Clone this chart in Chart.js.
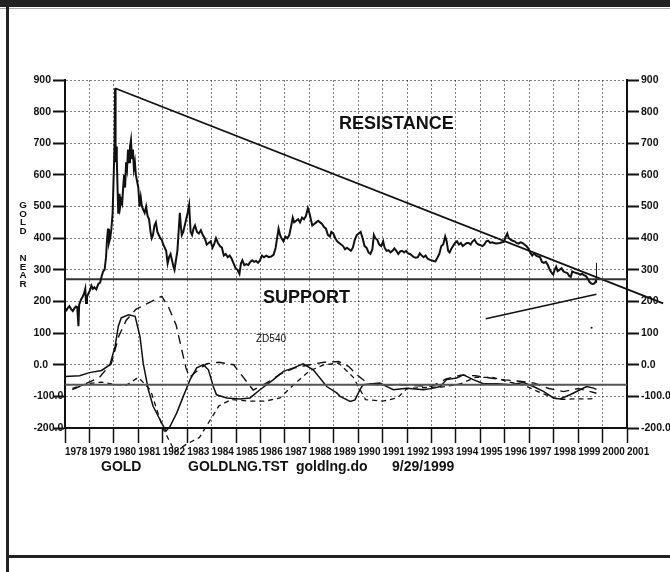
<!DOCTYPE html>
<html>
<head>
<meta charset="utf-8">
<title>GOLD NEAR</title>
<script src="https://cdn.jsdelivr.net/npm/chart.js@4.4.1/dist/chart.umd.min.js"></script>
<style>
  html, body { margin: 0; padding: 0; background: #fff; }
  #wrap { position: relative; width: 670px; height: 572px; overflow: hidden;
          font-family: "Liberation Sans", Arial, sans-serif; color: #111; }
  #wrap canvas { position: absolute; left: 0; top: 0; }
  .bar { position: absolute; background: #222; }
  .txt { position: absolute; white-space: nowrap; line-height: 1; font-weight: bold; }
  .vtitle { position: absolute; left: 18px; width: 10px; text-align: center;
            font-weight: bold; font-size: 9.8px; line-height: 8.7px; }
</style>
</head>
<body>
<div id="wrap">
  <canvas id="goldChart" width="670" height="572"></canvas>

  <div class="bar" style="left:0;top:0;width:670px;height:7px"></div>
  <div class="bar" style="left:0;top:8px;width:670px;height:1px;background:#aaa"></div>
  <div class="bar" style="left:6px;top:0;width:3px;height:572px"></div>
  <div class="bar" style="left:7px;top:555px;width:663px;height:3px"></div>

  <div class="vtitle" style="top:201px">G<br>O<br>L<br>D</div>
  <div class="vtitle" style="top:254px">N<br>E<br>A<br>R</div>

  <div class="txt" style="left:339px;top:114px;font-size:18px">RESISTANCE</div>
  <div class="txt" style="left:263px;top:288px;font-size:18px">SUPPORT</div>
  <div class="txt" style="left:256px;top:334px;font-size:10px;font-weight:normal">ZD540</div>

  <div class="txt" style="left:101px;top:459px;font-size:14px">GOLD</div>
  <div class="txt" style="left:188px;top:459px;font-size:14px">GOLDLNG.TST</div>
  <div class="txt" style="left:296px;top:459px;font-size:14px">goldlng.do</div>
  <div class="txt" style="left:392px;top:459px;font-size:14px">9/29/1999</div>
</div>

<script>
// ===== DATA =====
const firstYear = 1978;
const lastYear = 2001;
const priceMin = -200;
const priceMax = 900;

// GOLD NEAR, [decimal year, price]
const gold1978to1983 = [
  [1978.00,178],[1978.06,172],[1978.12,180],[1978.18,185],[1978.25,176],[1978.32,170],
  [1978.38,178],[1978.45,184],[1978.50,182],[1978.55,122],[1978.58,190],[1978.65,205],
  [1978.72,215],[1978.78,225],[1978.83,240],[1978.86,195],[1978.90,215],[1978.96,225],
  [1979.02,235],[1979.08,250],[1979.14,240],[1979.20,245],[1979.28,238],[1979.36,255],
  [1979.44,260],[1979.50,280],[1979.56,295],[1979.62,300],[1979.68,340],[1979.72,395],
  [1979.76,430],[1979.80,385],[1979.85,400],[1979.90,430],[1979.95,480],[1980.00,620],
  [1980.03,700],[1980.05,874],[1980.06,720],[1980.08,640],[1980.10,690],[1980.12,650],
  [1980.15,560],[1980.18,480],[1980.20,500],[1980.23,540],[1980.26,500],[1980.30,520],
  [1980.34,510],[1980.38,560],[1980.42,600],[1980.46,560],[1980.50,640],[1980.54,620],
  [1980.58,680],[1980.62,640],[1980.66,690],[1980.70,710],[1980.74,650],[1980.78,680],
  [1980.82,620],[1980.86,640],[1980.90,600],[1980.95,580],[1981.00,560],[1981.05,500],
  [1981.10,530],[1981.15,500],[1981.20,490],[1981.26,480],[1981.32,500],[1981.38,470],
  [1981.44,460],[1981.50,420],[1981.55,400],[1981.60,410],[1981.66,440],[1981.72,450],
  [1981.78,420],[1981.84,410],[1981.90,400],[1981.96,395],[1982.02,380],[1982.08,370],
  [1982.14,360],[1982.20,320],[1982.26,340],[1982.32,350],[1982.38,330],[1982.44,310],
  [1982.48,300],[1982.52,320],[1982.56,340],[1982.60,360],[1982.65,420],[1982.70,480],
  [1982.74,440],[1982.78,410],[1982.84,420],[1982.90,440],[1982.96,460],[1983.02,480],
  [1983.08,505],[1983.14,420],[1983.20,410],[1983.26,430],[1983.32,440],[1983.40,420],
  [1983.48,415],[1983.56,425],[1983.64,410],[1983.72,400],[1983.80,380],[1983.88,385],
  [1983.96,390]
];
const gold1984to1991 = [
  [1984.04,370],[1984.10,380],[1984.18,400],[1984.26,385],[1984.34,375],[1984.42,370],
  [1984.50,345],[1984.58,350],[1984.66,340],[1984.74,345],[1984.82,335],[1984.90,320],
  [1984.98,305],[1985.06,300],[1985.14,287],[1985.20,320],[1985.26,330],[1985.34,315],
  [1985.42,318],[1985.50,315],[1985.58,325],[1985.66,330],[1985.74,325],[1985.82,328],
  [1985.90,322],[1985.98,330],[1986.06,345],[1986.14,340],[1986.24,345],[1986.34,340],
  [1986.44,342],[1986.54,348],[1986.62,370],[1986.68,400],[1986.74,430],[1986.80,410],
  [1986.86,400],[1986.94,390],[1987.02,405],[1987.10,400],[1987.18,410],[1987.26,440],
  [1987.32,465],[1987.38,450],[1987.46,455],[1987.54,460],[1987.62,450],[1987.70,465],
  [1987.78,460],[1987.86,470],[1987.94,495],[1988.00,480],[1988.06,460],[1988.12,440],
  [1988.20,445],[1988.28,450],[1988.36,455],[1988.44,450],[1988.52,445],[1988.60,435],
  [1988.68,430],[1988.76,410],[1988.84,405],[1988.90,420],[1988.98,415],[1989.06,400],
  [1989.14,390],[1989.22,385],[1989.30,380],[1989.38,375],[1989.46,365],[1989.54,370],
  [1989.62,365],[1989.70,360],[1989.78,370],[1989.86,395],[1989.94,410],[1990.02,415],
  [1990.10,420],[1990.18,400],[1990.26,375],[1990.34,370],[1990.42,355],[1990.50,350],
  [1990.58,365],[1990.64,410],[1990.70,400],[1990.78,395],[1990.86,380],[1990.94,375],
  [1991.02,390],[1991.08,370],[1991.16,360],[1991.24,362],[1991.32,355],[1991.40,360],
  [1991.48,368],[1991.56,360],[1991.64,350],[1991.72,358],[1991.80,360],[1991.88,355],
  [1991.96,360]
];
const gold1992to1999 = [
  [1992.04,352],[1992.12,350],[1992.20,345],[1992.28,340],[1992.36,338],[1992.44,340],
  [1992.52,352],[1992.60,345],[1992.68,340],[1992.76,345],[1992.84,335],[1992.92,332],
  [1993.00,330],[1993.08,328],[1993.16,327],[1993.24,338],[1993.32,350],[1993.40,375],
  [1993.48,380],[1993.56,405],[1993.62,390],[1993.68,360],[1993.74,355],[1993.80,365],
  [1993.88,375],[1993.96,385],[1994.04,390],[1994.12,380],[1994.20,385],[1994.28,375],
  [1994.36,380],[1994.44,385],[1994.52,385],[1994.60,380],[1994.68,390],[1994.76,395],
  [1994.84,385],[1994.92,380],[1995.00,378],[1995.08,375],[1995.16,380],[1995.24,390],
  [1995.32,392],[1995.40,385],[1995.48,387],[1995.56,385],[1995.64,383],[1995.72,384],
  [1995.80,385],[1995.88,387],[1995.96,388],[1996.04,405],[1996.10,415],[1996.16,400],
  [1996.24,395],[1996.32,392],[1996.40,390],[1996.48,385],[1996.56,383],[1996.64,387],
  [1996.72,385],[1996.80,380],[1996.88,375],[1996.96,368],[1997.04,355],[1997.12,345],
  [1997.20,352],[1997.28,345],[1997.36,342],[1997.44,340],[1997.52,325],[1997.60,322],
  [1997.68,325],[1997.76,315],[1997.84,300],[1997.92,290],[1997.98,285],[1998.04,300],
  [1998.10,310],[1998.16,296],[1998.24,300],[1998.32,305],[1998.40,295],[1998.48,292],
  [1998.56,290],[1998.64,280],[1998.70,278],[1998.76,295],[1998.84,292],[1998.92,290],
  [1999.00,288],[1999.08,285],[1999.16,287],[1999.24,283],[1999.32,280],[1999.40,272],
  [1999.46,262],[1999.52,258],[1999.58,255],[1999.64,256],[1999.70,260],[1999.74,268]
];

// ZD540 oscillator (solid) and its two averages (dashed)
const oscSolid = [
  [1978.00,-37],[1978.60,-35],[1979.00,-25],[1979.50,-18],[1979.84,0],[1980.05,58],
  [1980.18,121],[1980.30,148],[1980.60,158],[1980.87,153],[1981.07,89],[1981.20,5],
  [1981.41,-79],[1981.61,-132],[1981.89,-174],[1982.13,-210],[1982.30,-195],[1982.57,-153],
  [1982.84,-100],[1983.12,-47],[1983.39,-10],[1983.66,0],[1983.87,-16],[1984.07,-69],
  [1984.20,-95],[1984.62,-105],[1985.16,-108],[1985.57,-105],[1985.98,-79],[1986.53,-47],
  [1986.94,-21],[1987.35,-10],[1987.75,3],[1988.16,-16],[1988.71,-69],[1989.12,-89],
  [1989.26,-100],[1989.67,-116],[1989.87,-111],[1990.07,-79],[1990.20,-63],[1990.89,-58],
  [1991.17,-69],[1991.44,-79],[1991.99,-74],[1992.67,-79],[1993.08,-74],[1993.35,-69],
  [1993.62,-47],[1994.03,-42],[1994.30,-32],[1994.71,-47],[1995.12,-60],[1995.67,-60],
  [1996.22,-63],[1996.76,-56],[1997.17,-69],[1997.58,-84],[1997.99,-105],[1998.26,-108],
  [1998.67,-95],[1999.08,-79],[1999.35,-69],[1999.63,-74],[1999.75,-78]
];
const oscLongDash = [
  [1978.30,-79],[1978.90,-58],[1979.40,-41],[1979.90,5],[1980.20,90],[1980.50,140],
  [1980.90,175],[1981.40,195],[1981.96,216],[1982.25,180],[1982.55,125],[1982.80,40],
  [1982.95,-10],[1983.10,-40],[1983.40,-20],[1983.80,3],[1984.30,8],[1984.90,0],
  [1985.30,-40],[1985.70,-80],[1986.20,-60],[1986.80,-30],[1987.40,-10],[1988.00,0],
  [1988.60,8],[1989.20,10],[1989.60,-5],[1990.00,-35],[1990.40,-60],[1991.00,-65],
  [1991.60,-62],[1992.30,-66],[1993.00,-68],[1993.60,-45],[1994.20,-33],[1994.80,-35],
  [1995.40,-42],[1996.00,-48],[1996.60,-52],[1997.20,-58],[1997.80,-75],[1998.40,-85],
  [1999.00,-75],[1999.75,-90]
];
const oscShortDash = [
  [1978.30,-75],[1978.90,-60],[1979.50,-55],[1980.00,-62],[1980.50,-65],[1981.00,-40],
  [1981.50,-80],[1982.00,-200],[1982.50,-275],[1983.00,-250],[1983.50,-230],[1983.90,-180],
  [1984.30,-130],[1984.80,-110],[1985.50,-115],[1986.20,-115],[1986.80,-105],[1987.40,-60],
  [1988.00,-20],[1988.60,0],[1989.20,5],[1989.80,-40],[1990.30,-110],[1991.00,-115],
  [1991.60,-105],[1992.00,-75],[1992.80,-72],[1993.50,-70],[1994.20,-60],[1994.80,-40],
  [1995.50,-40],[1996.20,-55],[1996.80,-65],[1997.50,-90],[1998.20,-110],[1998.80,-108],
  [1999.50,-108],[1999.75,-105]
];

// drawn trend lines and levels
const resistanceLine = [[1980.05,874],[2002.48,194]];
const risingLine = [[1995.22,145],[1999.75,223]];
const supportLevel = 270;
const oscBaseLevel = -63;
const lastBar = [[1999.75,258],[1999.75,322]];
const strayDot = [[1999.55,117]];

const FONT = '"Liberation Sans", Arial, sans-serif';
const toXY = pts => pts.map(p => ({ x: p[0], y: p[1] }));
const level = v => [{ x: firstYear, y: v }, { x: lastYear, y: v }];
const yLabel = v => (v > 0 ? String(v) : v.toFixed(1));

document.addEventListener("DOMContentLoaded", function () {
    const ctx = document.getElementById("goldChart").getContext("2d");
    const line = (data, opts) => Object.assign({
        data: data, showLine: true, pointRadius: 0, borderColor: "#111",
        borderWidth: 1.4, tension: 0, fill: false
    }, opts);

    new Chart(ctx, {
        type: "scatter",
        data: {
            datasets: [
                line(toXY(gold1978to1983.concat(gold1984to1991, gold1992to1999)), { borderWidth: 2 }),
                line(level(supportLevel), { borderColor: "#333", borderWidth: 2 }),
                line(level(oscBaseLevel), { borderColor: "#555", borderWidth: 2 }),
                line(toXY(resistanceLine), { borderWidth: 1.8, clip: false }),
                line(toXY(risingLine), { borderWidth: 1.5 }),
                line(toXY(lastBar), { borderWidth: 1 }),
                line(toXY(oscSolid), { borderWidth: 1.5, clip: false }),
                line(toXY(oscLongDash), { borderWidth: 1.4, borderDash: [9, 6], clip: false }),
                line(toXY(oscShortDash), { borderWidth: 1.3, borderDash: [5, 4], clip: false }),
                { data: toXY(strayDot), pointRadius: 1, backgroundColor: "#111", borderWidth: 0 }
            ]
        },
        options: {
            responsive: false,
            animation: false,
            events: [],
            layout: { padding: { left: 33.5, right: 0, top: 80, bottom: 0 } },
            plugins: { legend: { display: false }, tooltip: { enabled: false } },
            scales: {
                x: {
                    type: "linear", position: "bottom", min: firstYear, max: lastYear,
                    afterFit: s => { s.height = 144; },
                    ticks: {
                        stepSize: 1, autoSkip: false, maxRotation: 0, align: "start", padding: 3,
                        color: "#111", font: { family: FONT, size: 10, weight: "bold" },
                        callback: v => String(v)
                    },
                    grid: { color: "rgba(0,0,0,0.5)", lineWidth: 1, tickColor: "#111",
                            tickLength: 15, tickWidth: 1.5, tickBorderDash: [] },
                    border: { color: "#111", width: 2, dash: [2, 2] }
                },
                y: {
                    type: "linear", position: "left", min: priceMin, max: priceMax,
                    afterFit: s => { s.width = 31.5; },
                    ticks: {
                        stepSize: 100, crossAlign: "far", color: "#111",
                        font: { family: FONT, size: 10.5, weight: "bold" }, callback: yLabel
                    },
                    grid: { color: "rgba(0,0,0,0.5)", lineWidth: 1, tickColor: "#111",
                            tickLength: 12, tickWidth: 2, tickBorderDash: [] },
                    border: { color: "#111", width: 2, dash: [2, 2] }
                },
                y2: {
                    type: "linear", position: "right", min: priceMin, max: priceMax,
                    afterFit: s => { s.width = 43; },
                    ticks: {
                        stepSize: 100, padding: 2, color: "#111",
                        font: { family: FONT, size: 10.5, weight: "bold" }, callback: yLabel
                    },
                    grid: { drawOnChartArea: false, tickColor: "#111", tickLength: 12,
                            tickWidth: 2, tickBorderDash: [] },
                    border: { color: "#111", width: 2 }
                }
            }
        }
    });
});
</script>
</body>
</html>
